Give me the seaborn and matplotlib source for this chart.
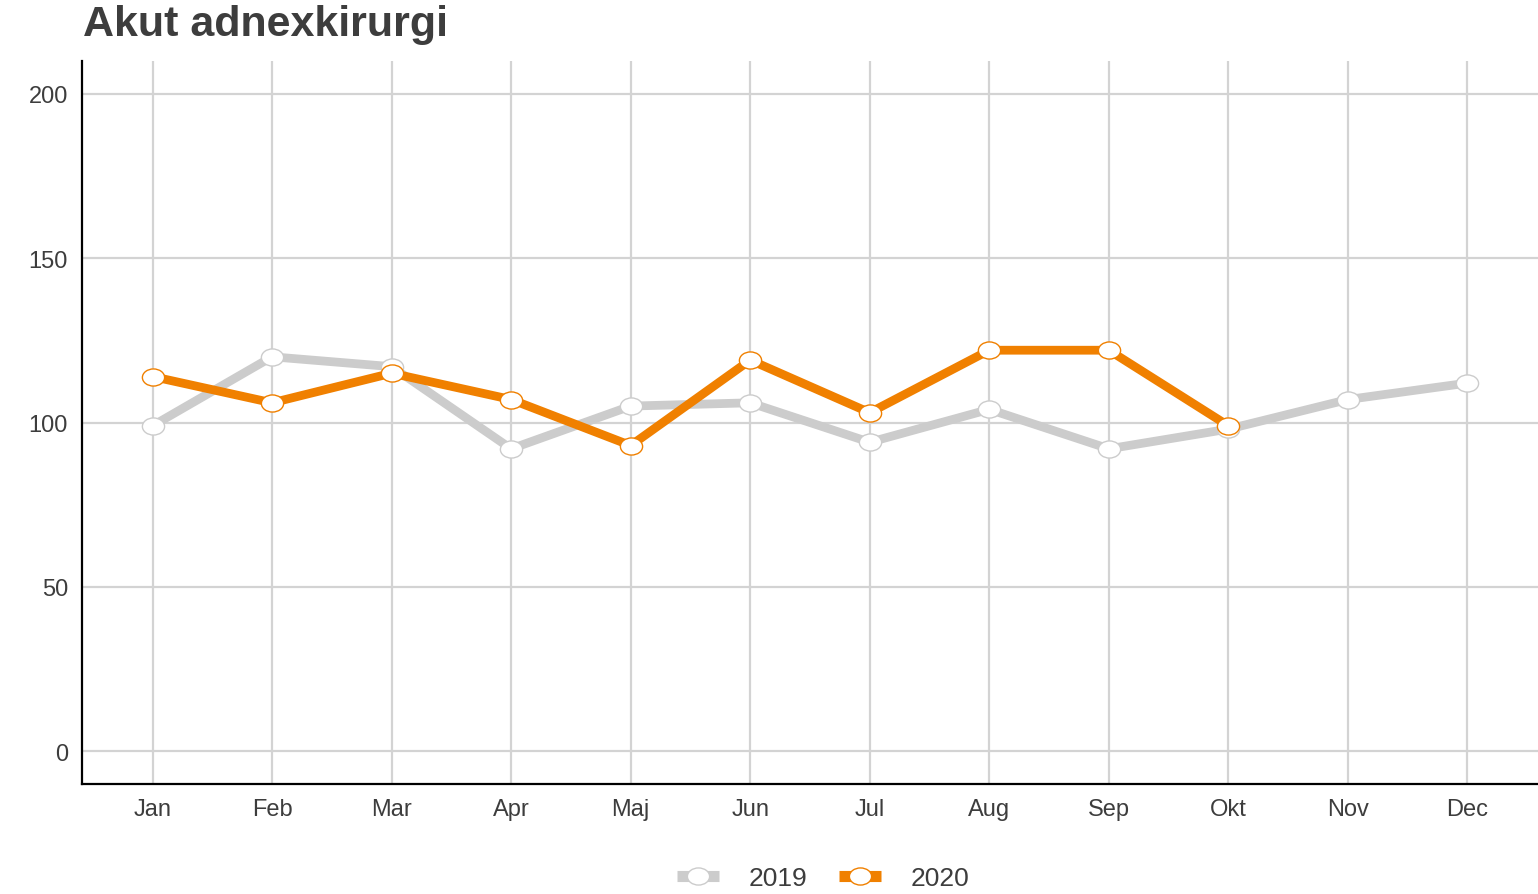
import matplotlib
matplotlib.use('Agg')
import matplotlib.pyplot as plt
from matplotlib.path import Path
from matplotlib.transforms import Affine2D
import pandas as pd
import seaborn as sns

manader = ['Jan', 'Feb', 'Mar', 'Apr', 'Maj', 'Jun', 'Jul', 'Aug', 'Sep', 'Okt', 'Nov', 'Dec']
antal_2019 = [99, 120, 117, 92, 105, 106, 94, 104, 92, 98, 107, 112]
antal_2020 = [114, 106, 115, 107, 93, 119, 103, 122, 122, 99]
ar = ['2019', '2020']
farger = {'2019': '#cccccc', '2020': '#f08000'}

rader = []
for i, v in enumerate(antal_2019):
    rader.append({'manad': i, 'antal': v, 'ar': '2019'})
for i, v in enumerate(antal_2020):
    rader.append({'manad': i, 'antal': v, 'ar': '2020'})
df = pd.DataFrame(rader)

sns.set_style('white')
plt.rcParams['font.family'] = ['Liberation Sans', 'DejaVu Sans']
textfarg = '#3d3d3d'

# utdragen cirkel (ellips) som markör
ellips = Path.unit_circle().transformed(Affine2D().scale(1.3, 1.0))

fig = plt.figure(figsize=(15.38, 8.95), dpi=100)
ax = fig.add_axes([0.0533, 0.1229, 0.9467, 0.8078])

for a in ar:
    d = df[df['ar'] == a]
    sns.lineplot(data=d, x='manad', y='antal', ax=ax, color=farger[a], linewidth=6.3,
                 marker=ellips, markersize=16, markerfacecolor='white',
                 markeredgecolor=farger[a], markeredgewidth=1.0, label=a,
                 solid_capstyle='butt')

ax.set_xlim(-0.59, 11.59)
ax.set_ylim(-10, 210)
ax.set_xticks(range(len(manader)))
ax.set_xticklabels(manader)
ax.set_yticks([0, 50, 100, 150, 200])
ax.grid(True, color='#d3d3d3', linewidth=1.6)
ax.set_axisbelow(True)
ax.tick_params(axis='both', colors='#999999', length=6, width=1.5, labelsize=17,
               labelcolor=textfarg, pad=4)
for s in ['top', 'right']:
    ax.spines[s].set_visible(False)
for s in ['left', 'bottom']:
    ax.spines[s].set_color('black')
    ax.spines[s].set_linewidth(1.6)
ax.set_xlabel('')
ax.set_ylabel('')

fig.text(0.054, 0.972, 'Akut adnexkirurgi', fontsize=31, fontweight='bold',
         color=textfarg, ha='left', va='center')

leg = ax.legend(loc='center', bbox_to_anchor=(0.509, -0.13), ncol=2, frameon=False,
                fontsize=19, handlelength=1.6, columnspacing=1.2, handletextpad=1.1)
for t in leg.get_texts():
    t.set_color(textfarg)
for h in leg.get_lines():
    h.set_linewidth(8)

fig.savefig('out.png', dpi=100)
